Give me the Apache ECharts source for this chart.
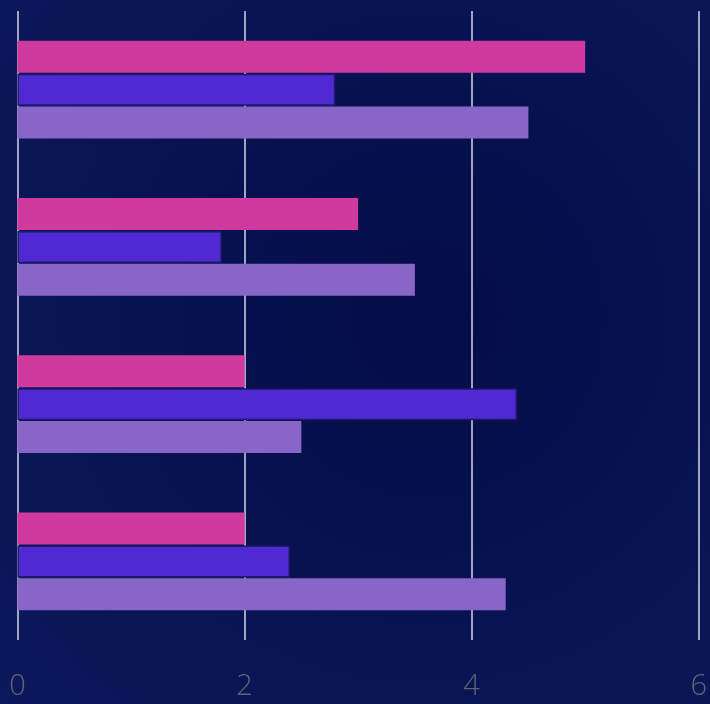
<!DOCTYPE html>
<html>
<head>
<meta charset="utf-8">
<script src="https://cdn.jsdelivr.net/npm/echarts@6/dist/echarts.min.js"></script>
<style>
html,body{margin:0;padding:0;width:710px;height:704px;overflow:hidden;background:#081254;}
#chart{width:710px;height:704px;}
</style>
</head>
<body>
<div id="chart"></div>
<script>
const categories = ['A', 'B', 'C', 'D'];
const pinkValues = [5.0, 3.0, 2.0, 2.0];
const blueValues = [2.8, 1.8, 4.4, 2.4];
const lavenderValues = [4.5, 3.5, 2.5, 4.3];
const xTicks = [0, 2, 4, 6];

const chart = echarts.init(document.getElementById('chart'));
chart.setOption({
  animation: false,
  backgroundColor: {
    type: 'radial', x: 0.6, y: 0.45, r: 0.9,
    colorStops: [
      { offset: 0, color: '#050c48' },
      { offset: 1, color: '#0c1a5e' }
    ]
  },
  grid: { left: 17.5, right: 8.5, top: 11, bottom: 64, containLabel: false },
  xAxis: {
    type: 'value', min: 0, max: 6, interval: 2,
    axisLine: { show: false },
    axisTick: { show: false },
    splitLine: { show: true, lineStyle: { color: '#d4d4e6', width: 1.5 } },
    axisLabel: {
      color: '#62646f', fontSize: 29, fontFamily: 'Open Sans', fontWeight: 300, margin: 32,
      formatter: v => xTicks.includes(v) ? String(v) : ''
    }
  },
  yAxis: {
    type: 'category', data: categories, inverse: true,
    axisLine: { show: false }, axisTick: { show: false }, axisLabel: { show: false }
  },
  series: [
    { name: 'Pink', type: 'bar', data: pinkValues, barWidth: 32, barGap: '3%',
      itemStyle: { color: '#d03a9e' } },
    { name: 'Blue', type: 'bar', data: blueValues, barWidth: 32, barGap: '3%',
      itemStyle: { color: '#5029d4', borderColor: '#1c1a6a', borderWidth: 1.5 } },
    { name: 'Lavender', type: 'bar', data: lavenderValues, barWidth: 32, barGap: '3%',
      itemStyle: { color: '#8766c8' } }
  ]
});
</script>
</body>
</html>
